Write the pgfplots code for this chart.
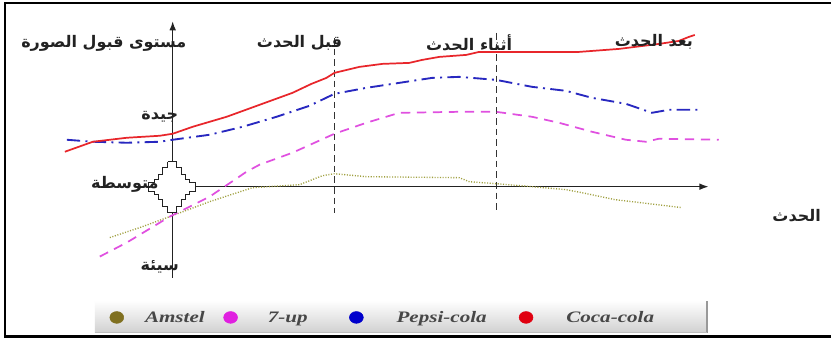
\documentclass[border=0pt]{standalone}
\usepackage{pgfplots}
\pgfplotsset{compat=1.18}
\usepackage{fontspec}
\usetikzlibrary{arrows.meta}
\TeXXeTstate=1
\newfontfamily\arabicfont[Script=Arabic]{DejaVu Sans}
\newfontfamily\legfont{Liberation Serif}
\definecolor{cocared}{HTML}{E8262B}
\definecolor{pepsiblue}{HTML}{2828C0}
\definecolor{sevenmag}{HTML}{E050E0}
\definecolor{amstelol}{HTML}{A0A040}
\definecolor{dotolive}{HTML}{807020}
\definecolor{dotmag}{HTML}{E020E0}
\definecolor{dotblue}{HTML}{0000CC}
\definecolor{dotred}{HTML}{E00010}
\definecolor{txt}{HTML}{222222}
\newcommand{\artxt}[1]{{\arabicfont\bfseries\beginR #1\endR}}
\newcommand{\legtxt}[1]{\scalebox{1.32}[1]{\legfont\bfseries\itshape #1}}
\begin{document}
\begin{tikzpicture}
\begin{axis}[
  scale only axis, width=624pt, height=254.25pt,
  xmin=0, xmax=832, ymin=0, ymax=339, y dir=reverse,
  axis lines=none, clip=false,
]
% background
\addplot[draw=none, fill=white] coordinates {(0,0) (832,0) (832,339) (0,339) (0,0)};
% frame
\addplot[black, line width=2.2pt] coordinates {(832,3) (5,3) (5,337) (832,337)};
% legend box
\addplot[draw=none, top color=white, bottom color=black!18] coordinates {(95,301) (708,301) (708,333) (95,333) (95,301)};
\addplot[black!40, line width=1.6pt] coordinates {(708,302) (708,334)};
\addplot[black!25, line width=0.8pt] coordinates {(95,333) (708,333)};
% event dashed lines
\addplot[black!80, line width=0.6pt, dash pattern=on 5pt off 3pt] coordinates {(335,38) (335,213)};
\addplot[black!80, line width=0.6pt, dash pattern=on 5pt off 3pt] coordinates {(497,33) (497,213)};
% axes
\addplot[txt, line width=1.2pt, -{Latex[length=7pt,width=5pt]}] coordinates {(173,278) (173,21)};
\addplot[txt, line width=1.2pt, -{Latex[length=7pt,width=5pt]}] coordinates {(172,187) (710,187)};
% Amstel
\addplot[amstelol, line width=1pt, dash pattern=on 0.8pt off 1.2pt] coordinates {
(110,238) (140,228) (170,217) (210,202) (253,188) (300,185) (323,176) (335,174) (367,177) (460,178) (470,182) (497,184) (533,187) (567,190) (583,193) (616,200) (650,204) (683,208)};
% 7-up
\addplot[sevenmag, line width=1.3pt, dash pattern=on 7pt off 5pt] coordinates {
(100,257) (127,243) (170,217) (210,197) (247,172) (260,165) (293,153) (335,134) (367,123) (400,113) (460,112) (497,112) (533,117) (560,123) (593,132) (627,140) (647,142) (660,139) (720,140)};
% Pepsi
\addplot[pepsiblue, line width=1.4pt, dash pattern=on 10pt off 4pt on 1.5pt off 4pt] coordinates {
(67,140) (93,142) (127,143) (160,142) (173,140) (210,135) (243,127) (277,117) (310,106) (335,94) (367,88) (400,83) (433,78) (460,77) (497,80) (533,87) (567,91) (593,98) (627,104) (653,113) (670,110) (700,110)};
% Coca-cola
\addplot[cocared, line width=1.3pt] coordinates {
(65,152) (93,142) (127,138) (160,136) (173,134) (193,127) (227,117) (260,105) (293,93) (312,84) (327,78) (335,73) (360,67) (383,64) (410,63) (423,60) (440,57) (467,55) (480,52) (580,52) (620,49) (660,44) (680,41) (690,37) (696,35)};
% cross ornament
\addplot[fill=white, draw=txt, line width=0.8pt] coordinates {
(168,162) (177,162) (177,168) (182,168) (182,175) (186,175) (186,180) (190,180) (190,183) (196,183) (196,192) (190,192) (190,195) (186,195) (186,200) (182,200) (182,207) (177,207) (177,213) (168,213) (168,207) (163,207) (163,200) (159,200) (159,195) (155,195) (155,192) (149,192) (149,183) (155,183) (155,180) (159,180) (159,175) (163,175) (163,168) (168,168) (168,162)};
% legend dots
\addplot[only marks, mark=*, mark size=5.2pt, mark options={yscale=0.85}, color=dotolive] coordinates {(117,318)};
\addplot[only marks, mark=*, mark size=5.2pt, mark options={yscale=0.85}, color=dotmag] coordinates {(231,318)};
\addplot[only marks, mark=*, mark size=5.2pt, mark options={yscale=0.85}, color=dotblue] coordinates {(357,318)};
\addplot[only marks, mark=*, mark size=5.2pt, mark options={yscale=0.85}, color=dotred] coordinates {(527,318)};
% legend text
\node[anchor=base west, inner sep=0pt, font=\fontsize{12}{14}\selectfont, text=black!72] at (axis cs:145,323) {\legtxt{Amstel}};
\node[anchor=base west, inner sep=0pt, font=\fontsize{12}{14}\selectfont, text=black!72] at (axis cs:268,323) {\legtxt{7-up}};
\node[anchor=base west, inner sep=0pt, font=\fontsize{12}{14}\selectfont, text=black!72] at (axis cs:397,323) {\legtxt{Pepsi-cola}};
\node[anchor=base west, inner sep=0pt, font=\fontsize{12}{14}\selectfont, text=black!72] at (axis cs:567,323) {\legtxt{Coca-cola}};
% Arabic labels
\node[inner sep=0pt, font=\fontsize{12}{14}\selectfont, text=txt] at (axis cs:104,43) {\artxt{مستوى قبول الصورة}};
\node[inner sep=0pt, font=\fontsize{12}{14}\selectfont, text=txt] at (axis cs:300,43) {\artxt{قبل الحدث}};
\node[inner sep=0pt, font=\fontsize{12}{14}\selectfont, text=txt] at (axis cs:470,43) {\artxt{أثناء الحدث}};
\node[inner sep=0pt, font=\fontsize{12}{14}\selectfont, text=txt] at (axis cs:655,42) {\artxt{بعد الحدث}};
\node[inner sep=0pt, font=\fontsize{12}{14}\selectfont, text=txt] at (axis cs:160,117) {\artxt{جيدة}};
\node[inner sep=0pt, font=\fontsize{12}{14}\selectfont, text=txt] at (axis cs:125,185) {\artxt{متوسطة}};
\node[inner sep=0pt, font=\fontsize{12}{14}\selectfont, text=txt] at (axis cs:160,267) {\artxt{سيئة}};
\node[inner sep=0pt, font=\fontsize{12}{14}\selectfont, text=txt] at (axis cs:798,216) {\artxt{الحدث}};
\end{axis}
\end{tikzpicture}
\end{document}
